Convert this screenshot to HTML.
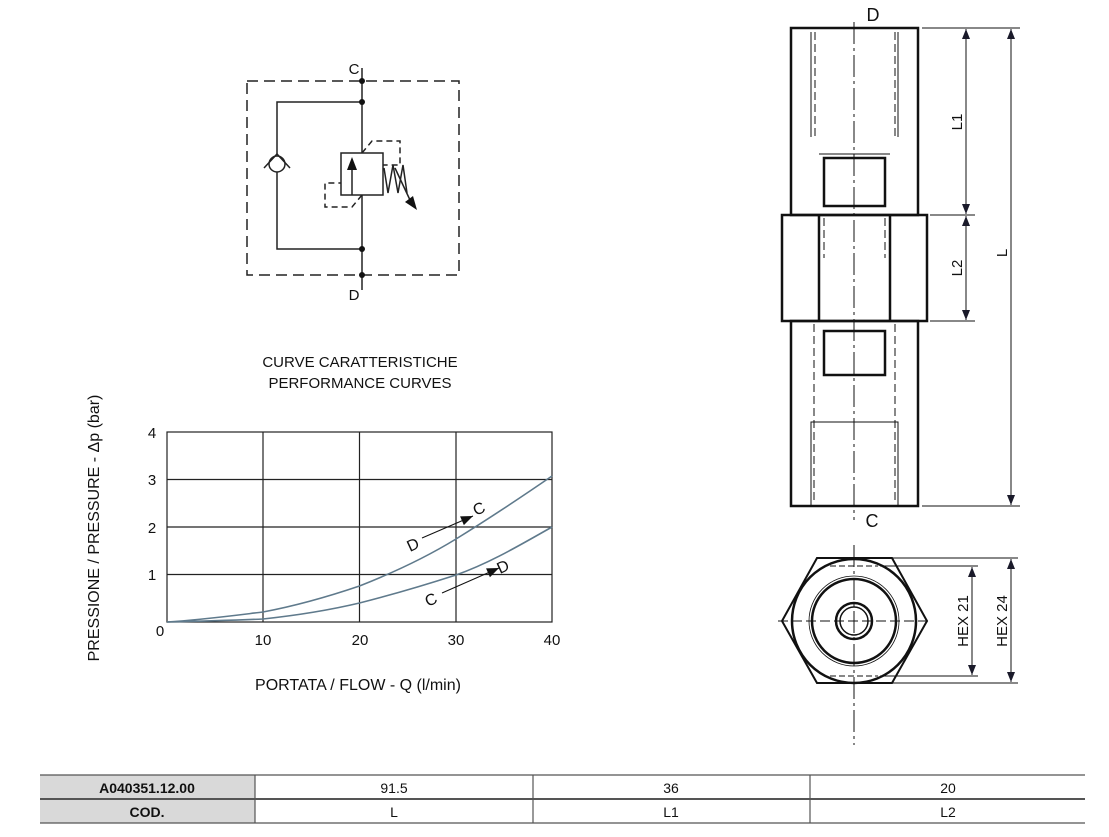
<!DOCTYPE html>
<html><head><meta charset="utf-8"><style>
html,body{margin:0;padding:0;background:#fff;width:1109px;height:837px;overflow:hidden}
svg text{font-family:"Liberation Sans",sans-serif;fill:#111}
</style></head><body>
<svg width="1109" height="837" viewBox="0 0 1109 837" xmlns="http://www.w3.org/2000/svg">
<defs>
<marker id="ah" viewBox="0 0 10 10" refX="10" refY="5" markerUnits="userSpaceOnUse" markerWidth="16" markerHeight="12" orient="auto-start-reverse"><path d="M0,1 L10,5 L0,9 z" fill="#111"/></marker>
<marker id="ad" viewBox="0 0 10 10" refX="10" refY="5" markerUnits="userSpaceOnUse" markerWidth="14" markerHeight="10" orient="auto-start-reverse"><path d="M0,1 L10,5 L0,9 z" fill="#1a1a2a"/></marker>
</defs>
<!-- Schematic -->
<g stroke="#222" stroke-width="1.5" fill="none">
<rect x="247" y="81" width="212" height="194" stroke-dasharray="11,6"/>
<line x1="362" y1="68" x2="362" y2="153"/>
<line x1="362" y1="195" x2="362" y2="290"/>
<polyline points="362,102 277,102 277,154"/>
<polyline points="277,172 277,249 362,249"/>
<circle cx="277" cy="164" r="8"/>
<polyline points="264,168 277,154 290,168"/>
<rect x="341" y="153" width="42" height="42"/>
<line x1="352" y1="195" x2="352" y2="168"/>
<polyline points="362,153 372,141 400,141 400,165 383,165" stroke-dasharray="6,4"/>
<polyline points="362,195 352,207 325,207 325,183 341,183" stroke-dasharray="6,4"/>
<polyline points="384,168 388,193 393,165 398,193 403,165 407,193"/>
<line x1="395" y1="168" x2="410" y2="200"/>
</g>
<polygon points="352,157 347,170 357,170" fill="#111"/>
<polygon points="405,202 417,210 413,196" fill="#111"/>
<g fill="#111"><circle cx="362" cy="81" r="3"/><circle cx="362" cy="102" r="3"/><circle cx="362" cy="249" r="3"/><circle cx="362" cy="275" r="3"/></g>
<text x="354" y="74" font-size="15" text-anchor="middle">C</text>
<text x="354" y="300" font-size="15" text-anchor="middle">D</text>

<!-- chart -->
<text x="360" y="367" font-size="15" text-anchor="middle">CURVE CARATTERISTICHE</text>
<text x="360" y="388" font-size="15" text-anchor="middle">PERFORMANCE CURVES</text>
<g stroke="#222" stroke-width="1.2" fill="none">
<rect x="167" y="432" width="385" height="190"/>
<line x1="263" y1="432" x2="263" y2="622"/><line x1="359.5" y1="432" x2="359.5" y2="622"/><line x1="456" y1="432" x2="456" y2="622"/>
<line x1="167" y1="479.5" x2="552" y2="479.5"/><line x1="167" y1="527" x2="552" y2="527"/><line x1="167" y1="574.5" x2="552" y2="574.5"/>
</g>
<g stroke="#5f7a8c" stroke-width="1.6" fill="none">
<path d="M167,622 C200,620 230,616 263,612 C295,606 330,596 359.5,586 C395,572 425,558 456,539 C490,518 520,498 552,476"/>
<path d="M167,622 C210,621 240,620 263,619 C300,615 330,610 359.5,603 C395,594 425,585 456,575 C490,563 520,545 552,527"/>
</g>
<line x1="422" y1="538" x2="473" y2="516" stroke="#111" stroke-width="1" marker-end="url(#ah)"/>
<line x1="442" y1="593" x2="499" y2="568" stroke="#111" stroke-width="1" marker-end="url(#ah)"/>
<text x="410" y="552" font-size="16" transform="rotate(-25 410 552)">D</text>
<text x="476" y="516" font-size="16" transform="rotate(-25 476 516)">C</text>
<text x="428" y="607" font-size="16" transform="rotate(-25 428 607)">C</text>
<text x="500" y="574" font-size="16" transform="rotate(-25 500 574)">D</text>
<g font-size="15">
<text x="152" y="438" text-anchor="middle">4</text><text x="152" y="485" text-anchor="middle">3</text>
<text x="152" y="533" text-anchor="middle">2</text><text x="152" y="580" text-anchor="middle">1</text>
<text x="160" y="636" text-anchor="middle">0</text>
<text x="263" y="645" text-anchor="middle">10</text><text x="360" y="645" text-anchor="middle">20</text>
<text x="456" y="645" text-anchor="middle">30</text><text x="552" y="645" text-anchor="middle">40</text>
<text x="358" y="690" text-anchor="middle" font-size="16">PORTATA / FLOW - Q (l/min)</text>
<text transform="translate(99 528) rotate(-90)" text-anchor="middle" font-size="16">PRESSIONE / PRESSURE - Δp (bar)</text>
</g>

<!-- side view -->
<g stroke="#111" fill="none">
<line x1="854" y1="22" x2="854" y2="520" stroke-width="1" stroke-dasharray="22,4,3,4"/>
<rect x="791" y="28" width="127" height="187" stroke-width="2.5"/>
<rect x="782" y="215" width="145" height="106" stroke-width="2.5"/>
<line x1="819" y1="215" x2="819" y2="321" stroke-width="2.5"/>
<line x1="890" y1="215" x2="890" y2="321" stroke-width="2.5"/>
<rect x="791" y="321" width="127" height="185" stroke-width="2.5"/>
<rect x="824" y="158" width="61" height="48" stroke-width="2.5"/>
<rect x="824" y="331" width="61" height="44" stroke-width="2.5"/>
<line x1="819" y1="154" x2="890" y2="154" stroke-width="1"/>
<line x1="811" y1="32" x2="811" y2="137" stroke-width="1"/>
<line x1="815" y1="32" x2="815" y2="137" stroke-width="1" stroke-dasharray="8,4"/>
<line x1="898" y1="32" x2="898" y2="137" stroke-width="1"/>
<line x1="895" y1="32" x2="895" y2="137" stroke-width="1" stroke-dasharray="8,4"/>
<line x1="824" y1="218" x2="824" y2="258" stroke-width="1" stroke-dasharray="8,4"/>
<line x1="885" y1="218" x2="885" y2="258" stroke-width="1" stroke-dasharray="8,4"/>
<line x1="814" y1="324" x2="814" y2="504" stroke-width="1" stroke-dasharray="8,4"/>
<line x1="895" y1="324" x2="895" y2="504" stroke-width="1" stroke-dasharray="8,4"/>
<polyline points="811,506 811,422 898,422 898,506" stroke-width="1"/>
<g stroke-width="1">
<line x1="922" y1="28" x2="1020" y2="28"/><line x1="930" y1="215" x2="975" y2="215"/>
<line x1="930" y1="321" x2="975" y2="321"/><line x1="922" y1="506" x2="1020" y2="506"/>
<line x1="966" y1="29" x2="966" y2="214" marker-start="url(#ad)" marker-end="url(#ad)"/>
<line x1="966" y1="216" x2="966" y2="320" marker-start="url(#ad)" marker-end="url(#ad)"/>
<line x1="1011" y1="29" x2="1011" y2="505" marker-start="url(#ad)" marker-end="url(#ad)"/>
</g>
</g>
<text x="873" y="21" font-size="18" text-anchor="middle">D</text>
<text x="872" y="527" font-size="18" text-anchor="middle">C</text>
<g font-size="15">
<text transform="translate(962 122) rotate(-90)" text-anchor="middle">L1</text>
<text transform="translate(962 268) rotate(-90)" text-anchor="middle">L2</text>
<text transform="translate(1007 253) rotate(-90)" text-anchor="middle">L</text>
<text transform="translate(968 621) rotate(-90)" text-anchor="middle">HEX 21</text>
<text transform="translate(1007 621) rotate(-90)" text-anchor="middle">HEX 24</text>
</g>
<!-- hex view -->
<g stroke="#111" fill="none">
<line x1="854" y1="545" x2="854" y2="745" stroke-width="1" stroke-dasharray="22,4,3,4"/>
<line x1="778" y1="621" x2="930" y2="621" stroke-width="1" stroke-dasharray="10,4"/>
<polygon points="817,558 892,558 927,621 892,683 817,683 782,621" stroke-width="2"/>
<circle cx="854" cy="621" r="62" stroke-width="2.5"/>
<circle cx="854" cy="621" r="42" stroke-width="2.5"/>
<circle cx="854" cy="621" r="45" stroke-width="0.8"/>
<circle cx="854" cy="621" r="18" stroke-width="2.5"/>
<circle cx="854" cy="621" r="14" stroke-width="1.5"/>
<line x1="830" y1="566" x2="878" y2="566" stroke-width="1" stroke-dasharray="6,3"/>
<line x1="830" y1="676" x2="878" y2="676" stroke-width="1" stroke-dasharray="6,3"/>
<g stroke-width="1">
<line x1="892" y1="558" x2="1018" y2="558"/><line x1="880" y1="566" x2="978" y2="566"/>
<line x1="880" y1="676" x2="978" y2="676"/><line x1="892" y1="683" x2="1018" y2="683"/>
<line x1="972" y1="567" x2="972" y2="675" marker-start="url(#ad)" marker-end="url(#ad)"/>
<line x1="1011" y1="559" x2="1011" y2="682" marker-start="url(#ad)" marker-end="url(#ad)"/>
</g>
</g>
<!-- table -->
<rect x="40" y="775" width="215" height="48" fill="#d9d9d9"/>
<g stroke="#555" stroke-width="1.2">
<line x1="40" y1="775" x2="1085" y2="775"/><line x1="40" y1="799" x2="1085" y2="799" stroke-width="2"/>
<line x1="40" y1="823" x2="1085" y2="823"/>
<line x1="255" y1="775" x2="255" y2="823"/><line x1="533" y1="775" x2="533" y2="823"/><line x1="810" y1="775" x2="810" y2="823"/>
</g>
<g font-size="14" text-anchor="middle">
<text x="147" y="793" font-weight="bold">A040351.12.00</text>
<text x="147" y="817" font-weight="bold">COD.</text>
<text x="394" y="793">91.5</text><text x="394" y="817">L</text>
<text x="671" y="793">36</text><text x="671" y="817">L1</text>
<text x="948" y="793">20</text><text x="948" y="817">L2</text>
</g>
</svg>
</body></html>
